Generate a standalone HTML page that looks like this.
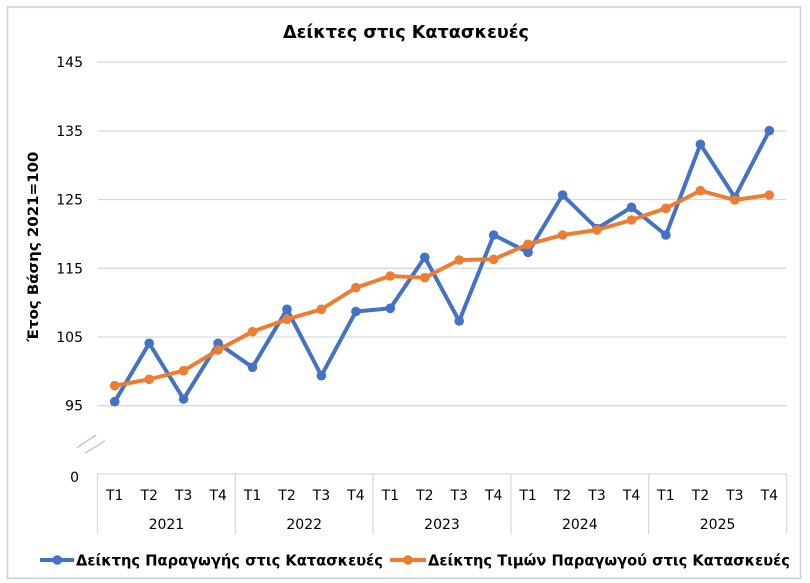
<!DOCTYPE html>
<html>
<head>
<meta charset="utf-8">
<style>
html,body{margin:0;padding:0;background:#fff;}
svg{display:block;}
text{font-family:"DejaVu Sans","Liberation Sans",sans-serif;fill:#000;}
</style>
</head>
<body>
<svg width="810" height="583" viewBox="0 0 810 583" xmlns="http://www.w3.org/2000/svg">
<rect x="0" y="0" width="810" height="583" fill="#fff"/>
<rect x="7.5" y="7" width="793" height="571.3" fill="#fff" stroke="#c3d0e3" stroke-width="1.5"/>

<!-- title -->
<text x="406" y="38" font-size="18" font-weight="bold" text-anchor="middle" textLength="246" lengthAdjust="spacingAndGlyphs">Δείκτες στις Κατασκευές</text>

<!-- gridlines -->
<g stroke="#d9d9d9" stroke-width="1.3">
<line x1="97.5" y1="62.2" x2="786.5" y2="62.2"/>
<line x1="97.5" y1="131" x2="786.5" y2="131"/>
<line x1="97.5" y1="199.5" x2="786.5" y2="199.5"/>
<line x1="97.5" y1="268.3" x2="786.5" y2="268.3"/>
<line x1="97.5" y1="337" x2="786.5" y2="337"/>
<line x1="97.5" y1="405.7" x2="786.5" y2="405.7"/>
</g>

<!-- y tick labels -->
<g font-size="14" text-anchor="end">
<text x="83" y="67">145</text>
<text x="83" y="136">135</text>
<text x="83" y="204.5">125</text>
<text x="83" y="273.3">115</text>
<text x="83" y="342">105</text>
<text x="83" y="410.7">95</text>
<text x="79" y="482">0</text>
</g>

<!-- axis break -->
<g stroke="#c8c8c8" stroke-width="1.5">
<line x1="77" y1="447.7" x2="96" y2="435"/>
<line x1="85" y1="453.3" x2="105" y2="440.7"/>
</g>

<!-- category axis -->
<g stroke="#d9d9d9" stroke-width="1.3">
<line x1="97.5" y1="474" x2="786.5" y2="474"/>
<line x1="97.5" y1="474" x2="97.5" y2="534"/>
<line x1="235.3" y1="474" x2="235.3" y2="534"/>
<line x1="373.1" y1="474" x2="373.1" y2="534"/>
<line x1="510.9" y1="474" x2="510.9" y2="534"/>
<line x1="648.7" y1="474" x2="648.7" y2="534"/>
<line x1="786.5" y1="474" x2="786.5" y2="534"/>
</g>

<g font-size="14" text-anchor="middle">
<text x="114.7" y="500">T1</text><text x="149.2" y="500">T2</text><text x="183.6" y="500">T3</text><text x="218.1" y="500">T4</text>
<text x="252.5" y="500">T1</text><text x="287.0" y="500">T2</text><text x="321.4" y="500">T3</text><text x="355.9" y="500">T4</text>
<text x="390.3" y="500">T1</text><text x="424.8" y="500">T2</text><text x="459.2" y="500">T3</text><text x="493.7" y="500">T4</text>
<text x="528.1" y="500">T1</text><text x="562.6" y="500">T2</text><text x="597.0" y="500">T3</text><text x="631.5" y="500">T4</text>
<text x="665.9" y="500">T1</text><text x="700.4" y="500">T2</text><text x="734.8" y="500">T3</text><text x="769.3" y="500">T4</text>
<text x="166.4" y="529">2021</text>
<text x="304.2" y="529">2022</text>
<text x="442.0" y="529">2023</text>
<text x="579.8" y="529">2024</text>
<text x="717.6" y="529">2025</text>
</g>

<!-- y axis title -->
<text transform="translate(38,246.7) rotate(-90)" font-size="14" font-weight="bold" text-anchor="middle" textLength="190" lengthAdjust="spacingAndGlyphs">Έτος Βάσης 2021=100</text>

<!-- blue series -->
<polyline fill="none" stroke="#4472C4" stroke-width="4" stroke-linejoin="round" stroke-linecap="round"
points="114.7,401.7 149.2,343.3 183.6,399 218.1,343.3 252.5,367.3 287.0,309.3 321.4,375.7 355.9,311.5 390.3,308.3 424.8,257.3 459.2,321 493.7,235 528.1,252.3 562.6,195 597.0,228.5 631.5,207.3 665.9,235 700.4,144.3 734.8,197.3 769.3,130.7"/>
<g fill="#4472C4">
<circle cx="114.7" cy="401.7" r="4.8"/><circle cx="149.2" cy="343.3" r="4.8"/><circle cx="183.6" cy="399" r="4.8"/><circle cx="218.1" cy="343.3" r="4.8"/>
<circle cx="252.5" cy="367.3" r="4.8"/><circle cx="287.0" cy="309.3" r="4.8"/><circle cx="321.4" cy="375.7" r="4.8"/><circle cx="355.9" cy="311.5" r="4.8"/>
<circle cx="390.3" cy="308.3" r="4.8"/><circle cx="424.8" cy="257.3" r="4.8"/><circle cx="459.2" cy="321" r="4.8"/><circle cx="493.7" cy="235" r="4.8"/>
<circle cx="528.1" cy="252.3" r="4.8"/><circle cx="562.6" cy="195" r="4.8"/><circle cx="597.0" cy="228.5" r="4.8"/><circle cx="631.5" cy="207.3" r="4.8"/>
<circle cx="665.9" cy="235" r="4.8"/><circle cx="700.4" cy="144.3" r="4.8"/><circle cx="734.8" cy="197.3" r="4.8"/><circle cx="769.3" cy="130.7" r="4.8"/>
</g>

<!-- orange series -->
<polyline fill="none" stroke="#ED7D31" stroke-width="4" stroke-linejoin="round" stroke-linecap="round"
points="114.7,385.7 149.2,379.3 183.6,370.7 218.1,350 252.5,331.7 287.0,319.3 321.4,309.3 355.9,287.7 390.3,276 424.8,277.7 459.2,260 493.7,259.3 528.1,244.3 562.6,235 597.0,230 631.5,220 665.9,208.3 700.4,190.7 734.8,200 769.3,195"/>
<g fill="#ED7D31">
<circle cx="114.7" cy="385.7" r="4.8"/><circle cx="149.2" cy="379.3" r="4.8"/><circle cx="183.6" cy="370.7" r="4.8"/><circle cx="218.1" cy="350" r="4.8"/>
<circle cx="252.5" cy="331.7" r="4.8"/><circle cx="287.0" cy="319.3" r="4.8"/><circle cx="321.4" cy="309.3" r="4.8"/><circle cx="355.9" cy="287.7" r="4.8"/>
<circle cx="390.3" cy="276" r="4.8"/><circle cx="424.8" cy="277.7" r="4.8"/><circle cx="459.2" cy="260" r="4.8"/><circle cx="493.7" cy="259.3" r="4.8"/>
<circle cx="528.1" cy="244.3" r="4.8"/><circle cx="562.6" cy="235" r="4.8"/><circle cx="597.0" cy="230" r="4.8"/><circle cx="631.5" cy="220" r="4.8"/>
<circle cx="665.9" cy="208.3" r="4.8"/><circle cx="700.4" cy="190.7" r="4.8"/><circle cx="734.8" cy="200" r="4.8"/><circle cx="769.3" cy="195" r="4.8"/>
</g>

<!-- legend -->
<line x1="40" y1="560" x2="74" y2="560" stroke="#4472C4" stroke-width="4"/>
<circle cx="57.3" cy="560" r="4.8" fill="#4472C4"/>
<text x="76" y="565.5" font-size="15" font-weight="bold" textLength="307" lengthAdjust="spacingAndGlyphs">Δείκτης Παραγωγής στις Κατασκευές</text>
<line x1="390" y1="560" x2="426" y2="560" stroke="#ED7D31" stroke-width="4"/>
<circle cx="408" cy="560" r="4.8" fill="#ED7D31"/>
<text x="428" y="565.5" font-size="15" font-weight="bold" textLength="362" lengthAdjust="spacingAndGlyphs">Δείκτης Τιμών Παραγωγού στις Κατασκευές</text>
</svg>
</body>
</html>
